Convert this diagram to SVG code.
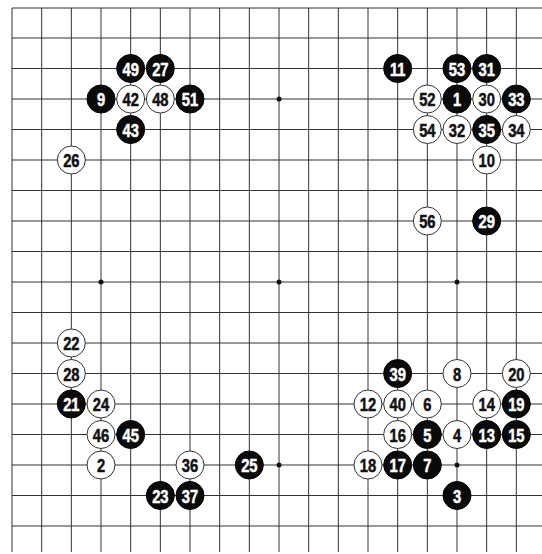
<svg xmlns="http://www.w3.org/2000/svg" width="542" height="554" viewBox="0 0 542 554">
<style>
.grid line{stroke:#333;stroke-width:1}
.edge{stroke:#222;stroke-width:1.6}
.star{fill:#111}
.b circle{fill:#0a0a0a;stroke:#000;stroke-width:1}
.w circle{fill:#fff;stroke:#333;stroke-width:1}
.stone text{font-family:"Liberation Sans",Arial,sans-serif;font-weight:bold;font-size:18px;text-anchor:middle;stroke-width:0.5}
.b text{fill:#fff;stroke:#fff}
.w text{fill:#111;stroke:#111}
</style>
<rect width="542" height="554" fill="#fff"/>
<g id="board" class="grid">
<line x1="41.67" y1="8" x2="41.67" y2="552"/>
<line x1="71.33" y1="8" x2="71.33" y2="552"/>
<line x1="101" y1="8" x2="101" y2="552"/>
<line x1="130.67" y1="8" x2="130.67" y2="552"/>
<line x1="160.33" y1="8" x2="160.33" y2="552"/>
<line x1="190" y1="8" x2="190" y2="552"/>
<line x1="219.67" y1="8" x2="219.67" y2="552"/>
<line x1="249.33" y1="8" x2="249.33" y2="552"/>
<line x1="279" y1="8" x2="279" y2="552"/>
<line x1="308.67" y1="8" x2="308.67" y2="552"/>
<line x1="338.33" y1="8" x2="338.33" y2="552"/>
<line x1="368" y1="8" x2="368" y2="552"/>
<line x1="397.67" y1="8" x2="397.67" y2="552"/>
<line x1="427.33" y1="8" x2="427.33" y2="552"/>
<line x1="457" y1="8" x2="457" y2="552"/>
<line x1="486.67" y1="8" x2="486.67" y2="552"/>
<line x1="516.33" y1="8" x2="516.33" y2="552"/>
<line x1="12" y1="38" x2="542" y2="38"/>
<line x1="12" y1="68.5" x2="542" y2="68.5"/>
<line x1="12" y1="99" x2="542" y2="99"/>
<line x1="12" y1="129.5" x2="542" y2="129.5"/>
<line x1="12" y1="160" x2="542" y2="160"/>
<line x1="12" y1="190.5" x2="542" y2="190.5"/>
<line x1="12" y1="221" x2="542" y2="221"/>
<line x1="12" y1="251.5" x2="542" y2="251.5"/>
<line x1="12" y1="282" x2="542" y2="282"/>
<line x1="12" y1="312.5" x2="542" y2="312.5"/>
<line x1="12" y1="343" x2="542" y2="343"/>
<line x1="12" y1="373.5" x2="542" y2="373.5"/>
<line x1="12" y1="404" x2="542" y2="404"/>
<line x1="12" y1="434.5" x2="542" y2="434.5"/>
<line x1="12" y1="465" x2="542" y2="465"/>
<line x1="12" y1="495.5" x2="542" y2="495.5"/>
<line x1="12" y1="526" x2="542" y2="526"/>
<line class="edge" x1="12" y1="8" x2="542" y2="8"/>
<line class="edge" x1="12" y1="8" x2="12" y2="552"/>
<circle class="star" cx="101" cy="282" r="2.5"/>
<circle class="star" cx="279" cy="99" r="2.5"/>
<circle class="star" cx="279" cy="282" r="2.5"/>
<circle class="star" cx="457" cy="282" r="2.5"/>
<circle class="star" cx="279" cy="465" r="2.5"/>
<circle class="star" cx="457" cy="465" r="2.5"/>
</g>
<g id="stones">
<g id="s1" class="stone b" transform="translate(457,99)"><circle r="14"/><text y="7" transform="scale(0.82,1)">1</text></g>
<g id="s2" class="stone w" transform="translate(101,465)"><circle r="14"/><text y="7" transform="scale(0.82,1)">2</text></g>
<g id="s3" class="stone b" transform="translate(457,495.5)"><circle r="14"/><text y="7" transform="scale(0.82,1)">3</text></g>
<g id="s4" class="stone w" transform="translate(457,434.5)"><circle r="14"/><text y="7" transform="scale(0.82,1)">4</text></g>
<g id="s5" class="stone b" transform="translate(427.33,434.5)"><circle r="14"/><text y="7" transform="scale(0.82,1)">5</text></g>
<g id="s6" class="stone w" transform="translate(427.33,404)"><circle r="14"/><text y="7" transform="scale(0.82,1)">6</text></g>
<g id="s7" class="stone b" transform="translate(427.33,465)"><circle r="14"/><text y="7" transform="scale(0.82,1)">7</text></g>
<g id="s8" class="stone w" transform="translate(457,373.5)"><circle r="14"/><text y="7" transform="scale(0.82,1)">8</text></g>
<g id="s9" class="stone b" transform="translate(101,99)"><circle r="14"/><text y="7" transform="scale(0.82,1)">9</text></g>
<g id="s10" class="stone w" transform="translate(486.67,160)"><circle r="14"/><text y="7" transform="scale(0.82,1)">10</text></g>
<g id="s11" class="stone b" transform="translate(397.67,68.5)"><circle r="14"/><text y="7" transform="scale(0.82,1)">11</text></g>
<g id="s12" class="stone w" transform="translate(368,404)"><circle r="14"/><text y="7" transform="scale(0.82,1)">12</text></g>
<g id="s13" class="stone b" transform="translate(486.67,434.5)"><circle r="14"/><text y="7" transform="scale(0.82,1)">13</text></g>
<g id="s14" class="stone w" transform="translate(486.67,404)"><circle r="14"/><text y="7" transform="scale(0.82,1)">14</text></g>
<g id="s15" class="stone b" transform="translate(516.33,434.5)"><circle r="14"/><text y="7" transform="scale(0.82,1)">15</text></g>
<g id="s16" class="stone w" transform="translate(397.67,434.5)"><circle r="14"/><text y="7" transform="scale(0.82,1)">16</text></g>
<g id="s17" class="stone b" transform="translate(397.67,465)"><circle r="14"/><text y="7" transform="scale(0.82,1)">17</text></g>
<g id="s18" class="stone w" transform="translate(368,465)"><circle r="14"/><text y="7" transform="scale(0.82,1)">18</text></g>
<g id="s19" class="stone b" transform="translate(516.33,404)"><circle r="14"/><text y="7" transform="scale(0.82,1)">19</text></g>
<g id="s20" class="stone w" transform="translate(516.33,373.5)"><circle r="14"/><text y="7" transform="scale(0.82,1)">20</text></g>
<g id="s21" class="stone b" transform="translate(71.33,404)"><circle r="14"/><text y="7" transform="scale(0.82,1)">21</text></g>
<g id="s22" class="stone w" transform="translate(71.33,343)"><circle r="14"/><text y="7" transform="scale(0.82,1)">22</text></g>
<g id="s23" class="stone b" transform="translate(160.33,495.5)"><circle r="14"/><text y="7" transform="scale(0.82,1)">23</text></g>
<g id="s24" class="stone w" transform="translate(101,404)"><circle r="14"/><text y="7" transform="scale(0.82,1)">24</text></g>
<g id="s25" class="stone b" transform="translate(249.33,465)"><circle r="14"/><text y="7" transform="scale(0.82,1)">25</text></g>
<g id="s26" class="stone w" transform="translate(71.33,160)"><circle r="14"/><text y="7" transform="scale(0.82,1)">26</text></g>
<g id="s27" class="stone b" transform="translate(160.33,68.5)"><circle r="14"/><text y="7" transform="scale(0.82,1)">27</text></g>
<g id="s28" class="stone w" transform="translate(71.33,373.5)"><circle r="14"/><text y="7" transform="scale(0.82,1)">28</text></g>
<g id="s29" class="stone b" transform="translate(486.67,221)"><circle r="14"/><text y="7" transform="scale(0.82,1)">29</text></g>
<g id="s30" class="stone w" transform="translate(486.67,99)"><circle r="14"/><text y="7" transform="scale(0.82,1)">30</text></g>
<g id="s31" class="stone b" transform="translate(486.67,68.5)"><circle r="14"/><text y="7" transform="scale(0.82,1)">31</text></g>
<g id="s32" class="stone w" transform="translate(457,129.5)"><circle r="14"/><text y="7" transform="scale(0.82,1)">32</text></g>
<g id="s33" class="stone b" transform="translate(516.33,99)"><circle r="14"/><text y="7" transform="scale(0.82,1)">33</text></g>
<g id="s34" class="stone w" transform="translate(516.33,129.5)"><circle r="14"/><text y="7" transform="scale(0.82,1)">34</text></g>
<g id="s35" class="stone b" transform="translate(486.67,129.5)"><circle r="14"/><text y="7" transform="scale(0.82,1)">35</text></g>
<g id="s36" class="stone w" transform="translate(190,465)"><circle r="14"/><text y="7" transform="scale(0.82,1)">36</text></g>
<g id="s37" class="stone b" transform="translate(190,495.5)"><circle r="14"/><text y="7" transform="scale(0.82,1)">37</text></g>
<g id="s39" class="stone b" transform="translate(397.67,373.5)"><circle r="14"/><text y="7" transform="scale(0.82,1)">39</text></g>
<g id="s40" class="stone w" transform="translate(397.67,404)"><circle r="14"/><text y="7" transform="scale(0.82,1)">40</text></g>
<g id="s42" class="stone w" transform="translate(130.67,99)"><circle r="14"/><text y="7" transform="scale(0.82,1)">42</text></g>
<g id="s43" class="stone b" transform="translate(130.67,129.5)"><circle r="14"/><text y="7" transform="scale(0.82,1)">43</text></g>
<g id="s45" class="stone b" transform="translate(130.67,434.5)"><circle r="14"/><text y="7" transform="scale(0.82,1)">45</text></g>
<g id="s46" class="stone w" transform="translate(101,434.5)"><circle r="14"/><text y="7" transform="scale(0.82,1)">46</text></g>
<g id="s48" class="stone w" transform="translate(160.33,99)"><circle r="14"/><text y="7" transform="scale(0.82,1)">48</text></g>
<g id="s49" class="stone b" transform="translate(130.67,68.5)"><circle r="14"/><text y="7" transform="scale(0.82,1)">49</text></g>
<g id="s51" class="stone b" transform="translate(190,99)"><circle r="14"/><text y="7" transform="scale(0.82,1)">51</text></g>
<g id="s52" class="stone w" transform="translate(427.33,99)"><circle r="14"/><text y="7" transform="scale(0.82,1)">52</text></g>
<g id="s53" class="stone b" transform="translate(457,68.5)"><circle r="14"/><text y="7" transform="scale(0.82,1)">53</text></g>
<g id="s54" class="stone w" transform="translate(427.33,129.5)"><circle r="14"/><text y="7" transform="scale(0.82,1)">54</text></g>
<g id="s56" class="stone w" transform="translate(427.33,221)"><circle r="14"/><text y="7" transform="scale(0.82,1)">56</text></g>
</g>
</svg>
